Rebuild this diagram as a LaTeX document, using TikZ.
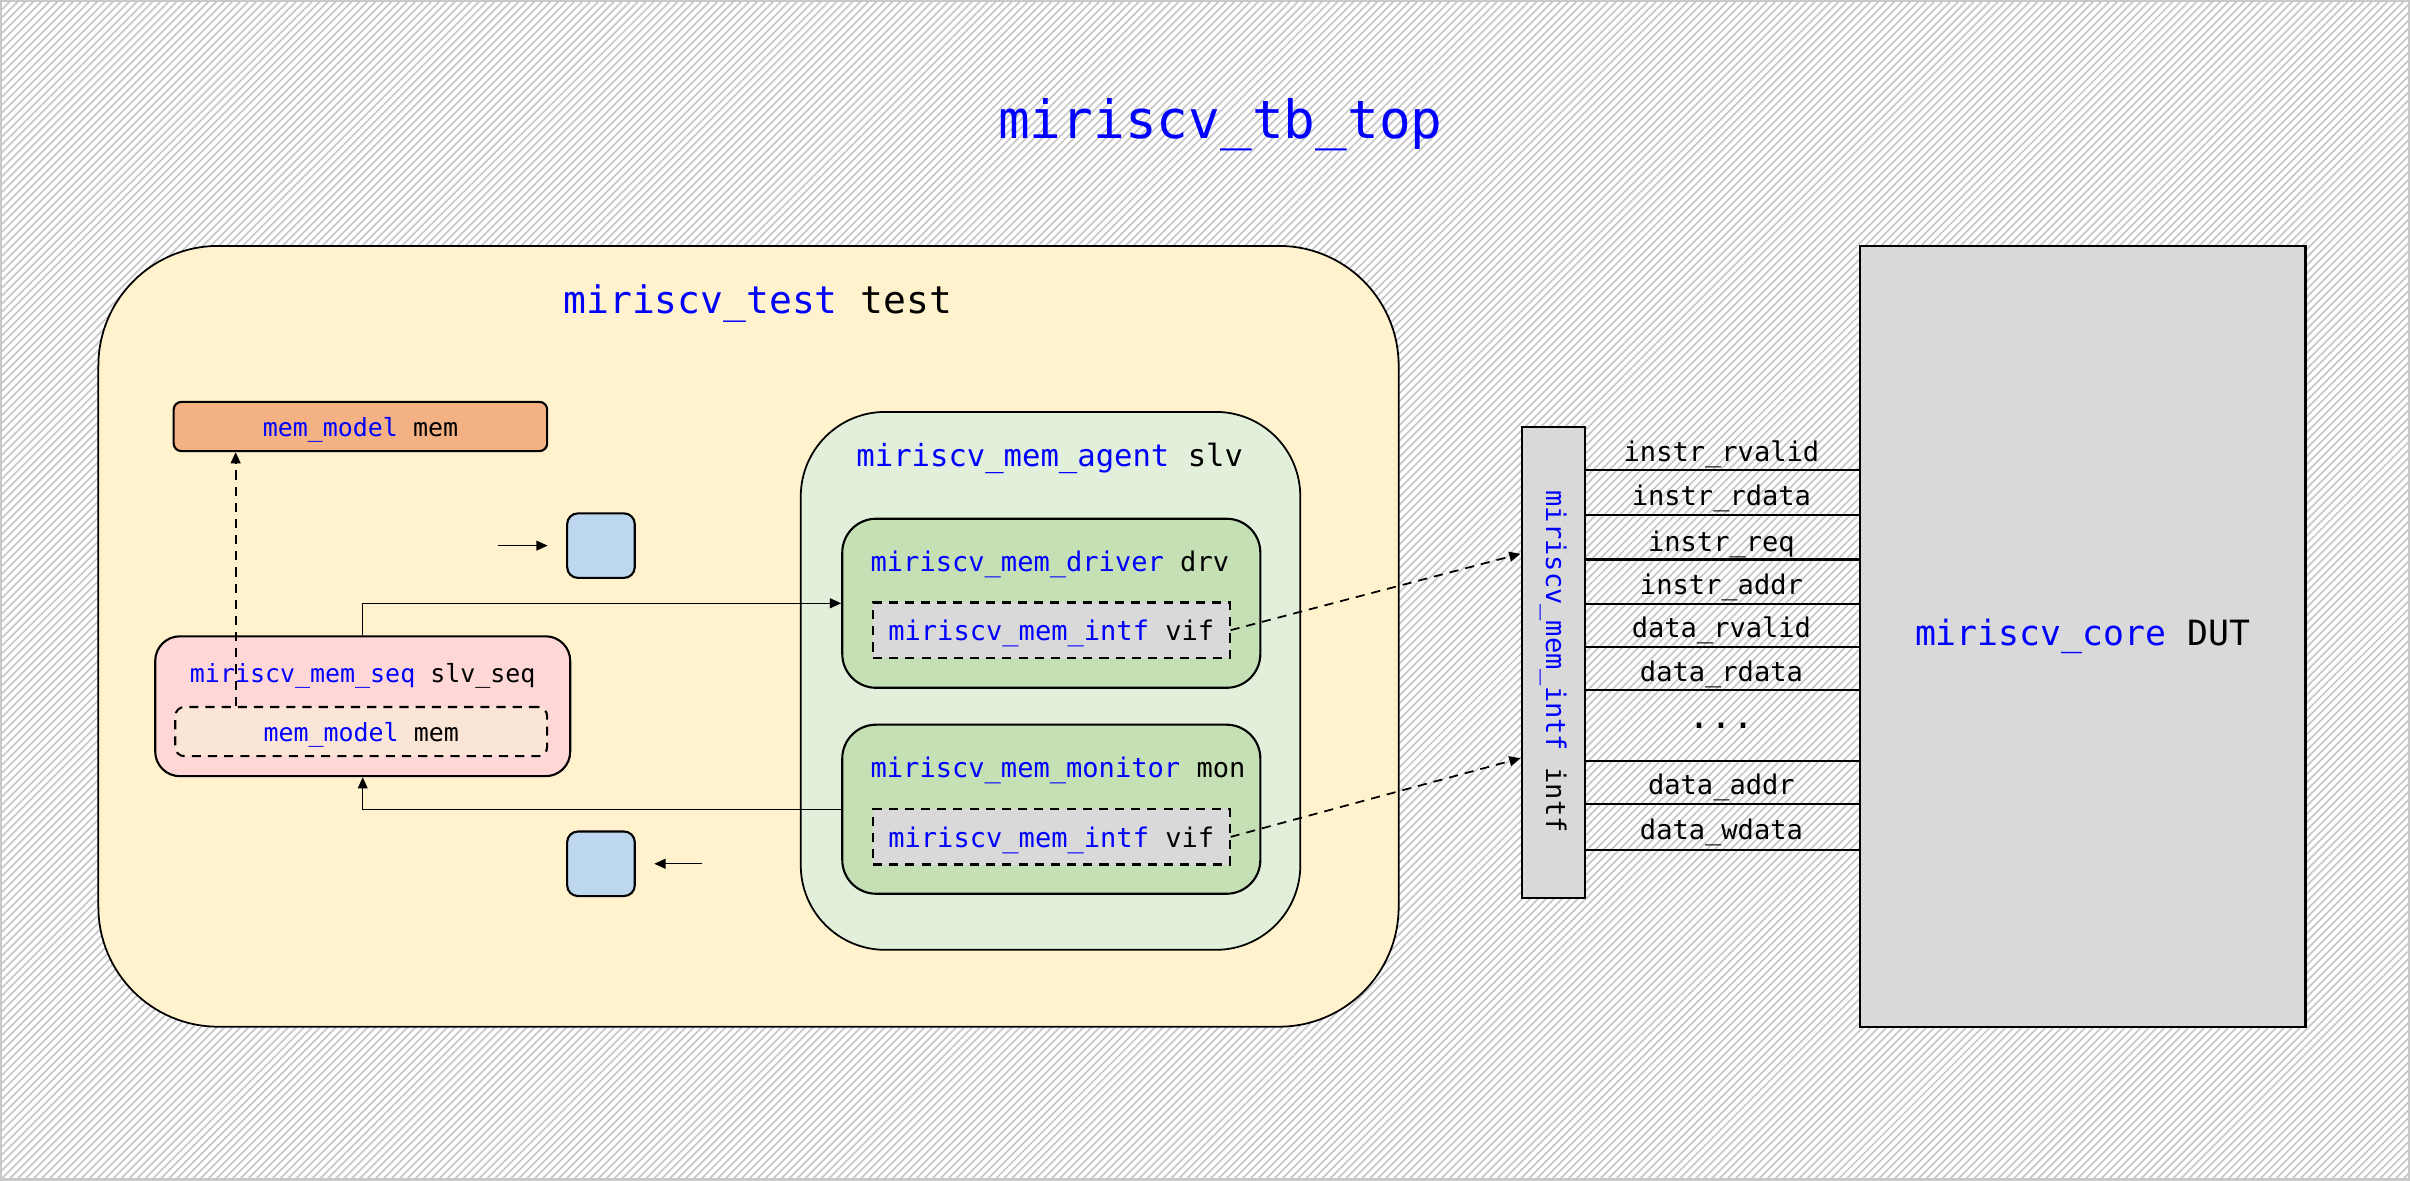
\documentclass[tikz,border=0pt]{standalone}
\usepackage{fontspec}
\setmainfont{DejaVu Sans Mono}
\usetikzlibrary{arrows.meta,patterns.meta}

\definecolor{hatchgray}{HTML}{C8C8C8}
\definecolor{testfill}{HTML}{FFF2CC}
\definecolor{memfill}{HTML}{F4B183}
\definecolor{seqfill}{HTML}{FFD7D7}
\definecolor{seqmemfill}{HTML}{FBE5D6}
\definecolor{agentfill}{HTML}{E2EFDA}
\definecolor{compfill}{HTML}{C5E0B4}
\definecolor{intffill}{HTML}{D9D9D9}
\definecolor{portfill}{HTML}{BDD7EE}

\newlength\pxu
\setlength\pxu{0.4373pt}
\newcommand\typ[1]{\textcolor{blue}{#1}}

\tikzset{
  box/.style={draw, line width=0.6pt, inner sep=0pt},
  sz/.style 2 args={minimum width=#1*\pxu, minimum height=#2*\pxu},
  dbox/.style={box, dash pattern=on 2.6pt off 2pt},
  lowtext/.style={text depth=0pt},
  ttitle/.style={font=\fontsize{15}{18}\selectfont},
  ttest/.style={font=\fontsize{10.8}{13}\selectfont},
  tdut/.style={font=\fontsize{9.9}{12}\selectfont},
  tagent/.style={font=\fontsize{8.7}{10}\selectfont},
  tcomp/.style={font=\fontsize{7.7}{9}\selectfont},
  tseq/.style={font=\fontsize{7.1}{8.5}\selectfont},
  conn/.style={line width=0.35pt, -{Triangle[length=3.2pt,width=2.8pt]}},
  dconn/.style={conn, line width=0.5pt, dash pattern=on 2.6pt off 2pt},
  sigline/.style={line width=0.6pt}
}

\begin{document}
\begin{tikzpicture}[x=0.4373pt, y=-0.4373pt]
\useasboundingbox (0,0) rectangle (1568,768);
\fill[pattern={Lines[angle=45,distance=1.6pt,line width=0.5pt]}, pattern color=hatchgray] (0,0) rectangle (1568,768);
\draw[hatchgray, line width=1.4pt] (0,0) rectangle (1568,768);

\node[ttitle] (title) at (794,81) {\typ{miriscv\_tb\_top}};

\node[box, line width=0.5pt, fill=testfill, rounded corners=78*\pxu, sz={846}{508}] (test) at (487,414) {};
\node[ttest] (testlbl) at (493,197.5) {\typ{miriscv\_test} test};

\node[box, lowtext, fill=memfill, rounded corners=5*\pxu, sz={243}{32}, tseq] (mem) at (234.5,277.5) {\typ{mem\_model} mem};
\node[box, fill=portfill, rounded corners=7*\pxu, sz={44}{42}] (q1) at (391,355) {};
\node[box, fill=portfill, rounded corners=7*\pxu, sz={44}{42}] (q2) at (391,562) {};
\coordinate (q1src) at (324,355);
\coordinate (q2src) at (457,562);

\node[box, fill=seqfill, rounded corners=16*\pxu, sz={270}{91}] (seq) at (236,459.5) {};
\node[tseq] (seqlbl) at (236,440) {\typ{miriscv\_mem\_seq} slv\_seq};
\node[dbox, lowtext, fill=seqmemfill, rounded corners=6*\pxu, sz={242}{32}, tseq] (seqmem) at (235,476) {\typ{mem\_model} mem};

\node[box, line width=0.5pt, fill=agentfill, rounded corners=55*\pxu, sz={325}{350}] (agent) at (683.5,443) {};
\node[tagent] (agentlbl) at (683,298.5) {\typ{miriscv\_mem\_agent} slv};

\node[box, fill=compfill, rounded corners=22*\pxu, sz={272}{110}] (drv) at (684,392.5) {};
\node[tcomp, anchor=west, inner sep=0pt] (drvlbl) at (566,367.5) {\typ{miriscv\_mem\_driver} drv};
\node[dbox, lowtext, fill=intffill, sz={232}{36}, tcomp] (drvvif) at (684,410) {\typ{miriscv\_mem\_intf} vif};

\node[box, fill=compfill, rounded corners=22*\pxu, sz={272}{110}] (mon) at (684,526.5) {};
\node[tcomp, anchor=west, inner sep=0pt] (monlbl) at (566,501.5) {\typ{miriscv\_mem\_monitor} mon};
\node[dbox, lowtext, fill=intffill, sz={232}{36}, tcomp] (monvif) at (684,544.5) {\typ{miriscv\_mem\_intf} vif};

\node[box, fill=intffill, sz={41}{306}] (intf) at (1010.5,431) {};
\node[tcomp, rotate=-90] (intflbl) at (1010.5,430.5) {\typ{miriscv\_mem\_intf} intf};

\node[box, fill=intffill, sz={290}{508}, tdut] (core) at (1355,414) {\typ{miriscv\_core} DUT};

\foreach \sy/\ly/\sig in {306/295.5/instr\_rvalid, 335/324.5/instr\_rdata, 364/354/instr\_req, 393/382/instr\_addr, 421/410/data\_rvalid, 449/438.5/data\_rdata, 523/512/data\_addr, 553/541.5/data\_wdata}{
  \node[tcomp] (sig\sy) at (1120,\ly) {\sig};
  \draw[sigline] (intf.east |- 0,\sy) -- (core.west |- 0,\sy);
}
\node[font=\fontsize{10.4}{12}\selectfont] (dots) at (1120,472.5) {...};
\draw[sigline] (intf.east |- 0,495) -- (core.west |- 0,495);

\draw[dconn] ([shift={(40,0)}]seqmem.north west) -- ([shift={(41,0)}]mem.south west);
\draw[conn] (seq.north) |- (drv.west);
\draw[conn] (mon.west) -| (seq.south);
\draw[conn] (q1src) -- ([shift={(-12,0)}]q1.west);
\draw[conn] (q2src) -- ([shift={(12,0)}]q2.east);
\draw[dconn] (drvvif.east) -- ([shift={(0,83)}]intf.north west);
\draw[dconn] (monvif.east) -- ([shift={(0,216)}]intf.north west);
\end{tikzpicture}
\end{document}
